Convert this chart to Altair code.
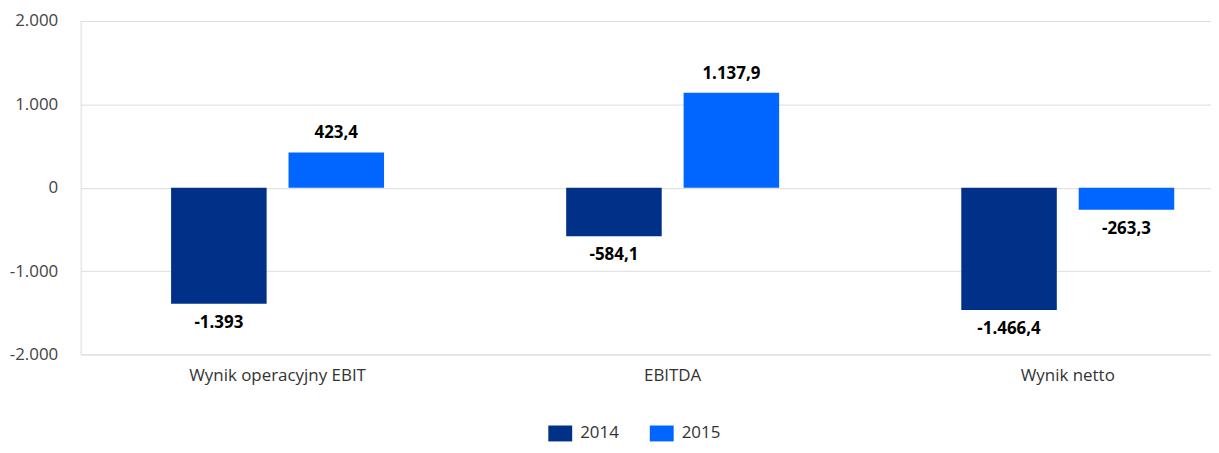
import altair as alt
import pandas as pd

categories = ["Wynik operacyjny EBIT", "EBITDA", "Wynik netto"]
years = ["2014", "2015"]
values_2014 = [-1393.0, -584.1, -1466.4]
values_2015 = [423.4, 1137.9, -263.3]
labels_2014 = ["-1.393", "-584,1", "-1.466,4"]
labels_2015 = ["423,4", "1.137,9", "-263,3"]
colors = ["#003087", "#0066ff"]

rows = []
for i, c in enumerate(categories):
    rows.append({"cat": c, "year": "2014", "value": values_2014[i], "label": labels_2014[i]})
    rows.append({"cat": c, "year": "2015", "value": values_2015[i], "label": labels_2015[i]})
df = pd.DataFrame(rows)

FONT = "Open Sans"

x = alt.X("cat:N", sort=categories,
          scale=alt.Scale(paddingInner=0.461, paddingOuter=0.161, align=0.711),
          axis=alt.Axis(title=None, labelAngle=0, domain=False, ticks=False,
                        labelPadding=13, labelFontSize=17, labelColor="#333333",
                        labelFont=FONT))
xo = alt.XOffset("year:N", sort=years, scale=alt.Scale(paddingInner=0.1864, paddingOuter=0))
y = alt.Y("value:Q", scale=alt.Scale(domain=[-2000, 2000], nice=False),
          axis=alt.Axis(title=None, values=[-2000, -1000, 0, 1000, 2000], format=",.0f",
                        domain=False, ticks=False, labelPadding=23, labelFontSize=17,
                        labelColor="#444444", labelFont=FONT, gridColor="#dddddd"))

base = alt.Chart(df)

bars = base.mark_bar().encode(
    x=x, xOffset=xo, y=y,
    color=alt.Color("year:N", sort=years,
                    scale=alt.Scale(domain=years, range=colors),
                    legend=alt.Legend(title=None, orient="none", legendX=470, legendY=402,
                                      direction="horizontal",
                                      symbolType="M-1,-0.667H1V0.667H-1Z",
                                      symbolSize=576, symbolStrokeWidth=0, labelFontSize=17,
                                      labelFont=FONT, labelColor="#333333", labelOffset=8,
                                      columnPadding=31, padding=0)),
)

pos_text = base.transform_filter("datum.value >= 0").mark_text(
    dy=-19, baseline="middle", fontWeight="bold", fontSize=17, font=FONT, color="#000000"
).encode(x=x, xOffset=xo, y=y, text="label:N")

neg_text = base.transform_filter("datum.value < 0").mark_text(
    dy=19, baseline="middle", fontWeight="bold", fontSize=17, font=FONT, color="#000000"
).encode(x=x, xOffset=xo, y=y, text="label:N")

chart = alt.layer(bars, pos_text, neg_text).properties(
    width=1136, height=335,
    autosize=alt.AutoSizeParams(type="none"),
    padding={"left": 73, "top": 12, "right": 0, "bottom": 90},
).configure_view(stroke=None).configure(
    locale={"number": {"decimal": ",", "thousands": ".", "grouping": [3],
                       "currency": ["", ""], "minus": "-"}}
)

chart.save("out.html", embed_options={"renderer": "svg", "actions": False})
